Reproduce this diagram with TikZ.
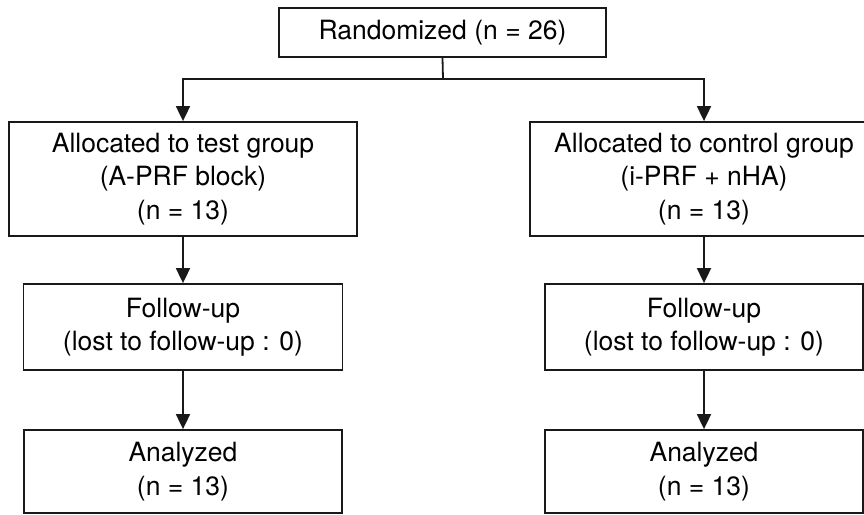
\documentclass[tikz,border=0pt]{standalone}
\usepackage{fontspec}
\setmainfont{TeX Gyre Heros}
\usetikzlibrary{arrows.meta}
\begin{document}
\begin{tikzpicture}[x=1pt,y=-1pt,
  box/.style={draw=black!90, line width=1.8pt, align=center, inner sep=0pt, font=\fontsize{26.5}{33.5}\selectfont},
  arr/.style={line width=1.8pt, draw=black!90, -{Triangle[length=15pt,width=14pt]}},
  link/.style={line width=1.8pt, draw=black!90}]
\useasboundingbox (0,0) rectangle (864,514);
\node[box, minimum width=327pt, minimum height=49pt] (r) at (442.5,32.5) {Randomized (n = 26)};
\node[box, minimum width=348pt, minimum height=114pt] (al) at (183,179) {Allocated to test group\\(A-PRF block)\\(n = 13)};
\node[box, minimum width=348pt, minimum height=114pt] (ar) at (704,179) {Allocated to control group\\(i-PRF + nHA)\\(n = 13)};
\node[box, minimum width=319pt, minimum height=86pt] (fl) at (183,327) {Follow-up\\(lost to follow-up : 0)};
\node[box, minimum width=318pt, minimum height=86pt] (fr) at (704,327) {Follow-up\\(lost to follow-up : 0)};
\node[box, minimum width=318pt, minimum height=83pt] (nl) at (183,471.5) {Analyzed\\(n = 13)};
\node[box, minimum width=318pt, minimum height=83pt] (nr) at (704,471.5) {Analyzed\\(n = 13)};
\coordinate (split) at (443,79);
\draw[link] (r.south) -- (split);
\draw[arr] (split) -| (al.north);
\draw[arr] (split) -| (ar.north);
\draw[arr] (al.south) -- (fl.north);
\draw[arr] (ar.south) -- (fr.north);
\draw[arr] (fl.south) -- (nl.north);
\draw[arr] (fr.south) -- (nr.north);
\end{tikzpicture}
\end{document}
